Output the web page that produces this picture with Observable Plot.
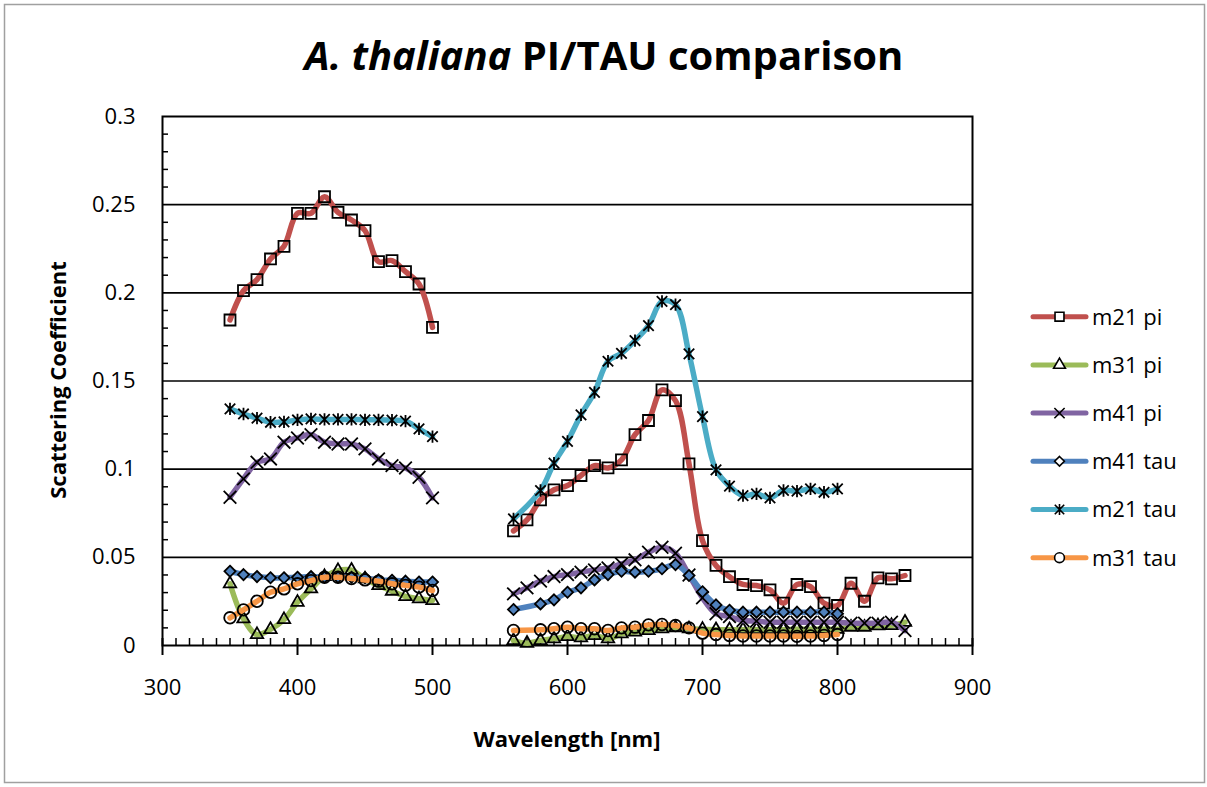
<!DOCTYPE html>
<html>
<head>
<meta charset="utf-8">
<script src="https://cdn.jsdelivr.net/npm/d3@7"></script>
<script src="https://cdn.jsdelivr.net/npm/@observablehq/plot@0.6"></script>
<style>
html,body{margin:0;padding:0;background:#fff;}
#chart{width:1207px;height:787px;}
</style>
</head>
<body>
<div id="chart"></div>
<script>
// ---- data ----
const wlLeft = [350,360,370,380,390,400,410,420,430,440,450,460,470,480,490,500];
const wlRightPi = [560,570,580,590,600,610,620,630,640,650,660,670,680,690,700,710,720,730,740,750,760,770,780,790,800,810,820,830,840,850];
const wlRightTau = [560,580,590,600,610,620,630,640,650,660,670,680,690,700,710,720,730,740,750,760,770,780,790,800];

const seriesNames = ["m21 pi","m31 pi","m41 pi","m41 tau","m21 tau","m31 tau"];
const seriesColors = ["#C0504D","#9BBB59","#8064A2","#4F81BD","#4BACC6","#F79646"];

const m21piLeft  = [0.1846,0.2012,0.2075,0.2192,0.2264,0.2451,0.2451,0.2545,0.2456,0.2413,0.2353,0.2177,0.2183,0.2120,0.2050,0.1804];
const m21piRight = [0.0650,0.0712,0.0826,0.0883,0.0907,0.0964,0.1020,0.1007,0.1053,0.1196,0.1276,0.1450,0.1389,0.1030,0.0595,0.0454,0.0390,0.0346,0.0340,0.0316,0.0240,0.0346,0.0334,0.0240,0.0227,0.0353,0.0251,0.0384,0.0378,0.0397];

const m31piLeft  = [0.0350,0.0151,0.0062,0.0091,0.0147,0.0245,0.0321,0.0391,0.0425,0.0427,0.0378,0.0340,0.0308,0.0278,0.0265,0.0255];
const m31piRight = [0.0028,0.0013,0.0028,0.0038,0.0051,0.0044,0.0057,0.0038,0.0066,0.0076,0.0085,0.0095,0.0100,0.0095,0.0092,0.0090,0.0090,0.0090,0.0090,0.0090,0.0090,0.0092,0.0092,0.0092,0.0092,0.0104,0.0104,0.0112,0.0113,0.0132];

const m41piLeft  = [0.0841,0.0945,0.1039,0.1058,0.1153,0.1177,0.1196,0.1153,0.1143,0.1143,0.1115,0.1058,0.1020,0.1007,0.0954,0.0837];
const m41piRight = [0.0293,0.0327,0.0365,0.0391,0.0402,0.0416,0.0429,0.0440,0.0463,0.0486,0.0529,0.0557,0.0523,0.0400,0.0270,0.0180,0.0164,0.0142,0.0138,0.0132,0.0132,0.0132,0.0132,0.0132,0.0132,0.0127,0.0127,0.0127,0.0132,0.0085];

const m41tauLeft  = [0.0421,0.0402,0.0391,0.0384,0.0384,0.0387,0.0391,0.0387,0.0387,0.0387,0.0384,0.0372,0.0370,0.0365,0.0360,0.0360];
const m41tauRight = [0.0204,0.0236,0.0259,0.0302,0.0327,0.0372,0.0402,0.0421,0.0416,0.0421,0.0435,0.0459,0.0397,0.0305,0.0230,0.0200,0.0189,0.0189,0.0189,0.0189,0.0189,0.0189,0.0189,0.0180];

const m21tauLeft  = [0.1342,0.1313,0.1289,0.1266,0.1268,0.1279,0.1285,0.1282,0.1282,0.1282,0.1280,0.1280,0.1278,0.1272,0.1228,0.1185];
const m21tauRight = [0.0718,0.0879,0.1034,0.1158,0.1308,0.1436,0.1612,0.1657,0.1729,0.1814,0.1952,0.1933,0.1654,0.1298,0.0996,0.0904,0.0850,0.0860,0.0837,0.0879,0.0875,0.0888,0.0869,0.0888];

const m31tauLeft  = [0.0157,0.0202,0.0251,0.0302,0.0321,0.0350,0.0368,0.0387,0.0387,0.0380,0.0372,0.0365,0.0350,0.0341,0.0331,0.0312];
const m31tauRight = [0.0085,0.0089,0.0095,0.0104,0.0095,0.0095,0.0085,0.0100,0.0104,0.0117,0.0119,0.0113,0.0100,0.0070,0.0062,0.0057,0.0054,0.0054,0.0054,0.0054,0.0052,0.0054,0.0057,0.0062];

const xTicks = [300,400,500,600,700,800,900];
const yTicks = [0,0.05,0.1,0.15,0.2,0.25,0.3];
const yGrid = [0.05,0.1,0.15,0.2,0.25];
const xMinor = d3.range(310, 900, 10).filter(d => d % 100 !== 0);
const yMinor = [0.01,0.02,0.03,0.04,0.06,0.07,0.08,0.09,0.11,0.12,0.13,0.14,0.16,0.17,0.18,0.19,0.21,0.22,0.23,0.24,0.26,0.27,0.28,0.29];

// Excel-like star marker (x with vertical bar)
const symbolStar = {
  draw(context, size) {
    const r = Math.sqrt(size) * 0.62;
    const d = r * 0.85;
    context.moveTo(-d, -d); context.lineTo(d, d);
    context.moveTo(d, -d); context.lineTo(-d, d);
    context.moveTo(0, -r); context.lineTo(0, r);
  }
};

// ---- build ----
const defs = [
  {name: seriesNames[0], left: m21piLeft,  right: m21piRight,  rx: wlRightPi,  symbol: d3.symbolSquare,   r: 6.2, fill: "none",    lsize: 80},
  {name: seriesNames[1], left: m31piLeft,  right: m31piRight,  rx: wlRightPi,  symbol: d3.symbolTriangle, r: 4.6, fill: "none",    lsize: 60},
  {name: seriesNames[2], left: m41piLeft,  right: m41piRight,  rx: wlRightPi,  symbol: d3.symbolTimes,    r: 5.8, fill: "none",    lsize: 70},
  {name: seriesNames[3], left: m41tauLeft, right: m41tauRight, rx: wlRightTau, symbol: d3.symbolDiamond2, r: 5.0, fill: seriesColors[3], lsize: 60},
  {name: seriesNames[4], left: m21tauLeft, right: m21tauRight, rx: wlRightTau, symbol: symbolStar,        r: 5.6, fill: "none",    lsize: 80},
  {name: seriesNames[5], left: m31tauLeft, right: m31tauRight, rx: wlRightTau, symbol: d3.symbolCircle,   r: 5.8, fill: "none",    lsize: 75}
];

const rows = [];
defs.forEach(s => {
  wlLeft.forEach((w, i) => rows.push({series: s.name, seg: s.name + "-L", wl: w, v: s.left[i]}));
  s.rx.forEach((w, i) => rows.push({series: s.name, seg: s.name + "-R", wl: w, v: s.right[i]}));
});

const seriesMarks = defs.flatMap(s => {
  const d = rows.filter(r => r.series === s.name);
  return [
    Plot.line(d, {x: "wl", y: "v", z: "seg", stroke: "series", strokeWidth: 5.5, curve: "catmull-rom", strokeLinecap: "round", strokeLinejoin: "round"}),
    Plot.dot(d, {x: "wl", y: "v", symbol: s.symbol, r: s.r, stroke: "#000", strokeWidth: 1.8, fill: s.fill})
  ];
});

const plot = Plot.plot({
  width: 1207,
  height: 787,
  marginLeft: 162,
  marginRight: 235,
  marginTop: 116,
  marginBottom: 142,
  style: {fontFamily: "'Open Sans', sans-serif", fontSize: "22px", color: "#000", background: "#fff", overflow: "visible"},
  x: {domain: [300, 900], label: null},
  y: {domain: [0, 0.3], label: null},
  color: {domain: seriesNames, range: seriesColors},
  marks: [
    Plot.ruleY(yGrid, {y: d => d, stroke: "#000", strokeWidth: 1.6}),
    Plot.ruleY(yMinor, {y: d => d, x1: 300, x2: 300, insetRight: -6, stroke: "#000", strokeWidth: 1.5}),
    Plot.ruleX(xMinor, {x: d => d, y1: 0, y2: 0, insetBottom: 7, stroke: "#000", strokeWidth: 1.5}),
    Plot.ruleX(xTicks, {x: d => d, y1: 0, y2: 0, insetTop: 10, insetBottom: 7, stroke: "#000", strokeWidth: 2}),
    Plot.frame({stroke: "#000", strokeWidth: 2}),
    Plot.axisX({ticks: xTicks, tickSize: 0, tickPadding: 34, tickFormat: d => String(d), label: null, fontSize: 22}),
    Plot.axisY({ticks: yTicks, tickSize: 0, tickPadding: 27, tickFormat: d => String(d), label: null, fontSize: 22}),
    ...seriesMarks
  ]
});

document.getElementById("chart").appendChild(plot);

const svg = d3.select(plot);

// outer border
svg.insert("rect", ":first-child")
  .attr("x", 4.5).attr("y", 4.5).attr("width", 1200).attr("height", 778)
  .attr("fill", "#fff").attr("stroke", "#a0a0a0").attr("stroke-width", 1.5);

// title
const title = svg.append("text")
  .attr("x", 604).attr("y", 70)
  .attr("text-anchor", "middle")
  .attr("font-family", "'Open Sans', sans-serif")
  .attr("font-size", 40).attr("font-weight", "bold").attr("fill", "#000");
title.append("tspan").attr("font-style", "italic").text("A. thaliana");
title.append("tspan").text(" PI/TAU comparison");

// axis titles
svg.append("text")
  .attr("x", 567).attr("y", 747)
  .attr("text-anchor", "middle")
  .attr("font-family", "'Open Sans', sans-serif")
  .attr("font-size", 22).attr("font-weight", "bold").attr("fill", "#000")
  .text("Wavelength [nm]");

svg.append("text")
  .attr("transform", "translate(66,380) rotate(-90)")
  .attr("text-anchor", "middle")
  .attr("font-family", "'Open Sans', sans-serif")
  .attr("font-size", 22).attr("font-weight", "bold").attr("fill", "#000")
  .text("Scattering Coefficient");

// legend
const leg = svg.append("g");
defs.forEach((s, i) => {
  const y = 316.7 + i * 48.2;
  leg.append("line")
    .attr("x1", 1033).attr("x2", 1086).attr("y1", y).attr("y2", y)
    .attr("stroke", seriesColors[i]).attr("stroke-width", 5).attr("stroke-linecap", "round");
  leg.append("path")
    .attr("d", d3.symbol(s.symbol, s.lsize)())
    .attr("transform", `translate(1059.5,${y})`)
    .attr("fill", "#fff").attr("stroke", "#000").attr("stroke-width", 1.6);
  leg.append("text")
    .attr("x", 1092).attr("y", y).attr("dy", "0.36em")
    .attr("text-anchor", "start")
    .attr("font-family", "'Open Sans', sans-serif")
    .attr("font-size", 22).attr("fill", "#000")
    .text(s.name);
});
</script>
</body>
</html>
